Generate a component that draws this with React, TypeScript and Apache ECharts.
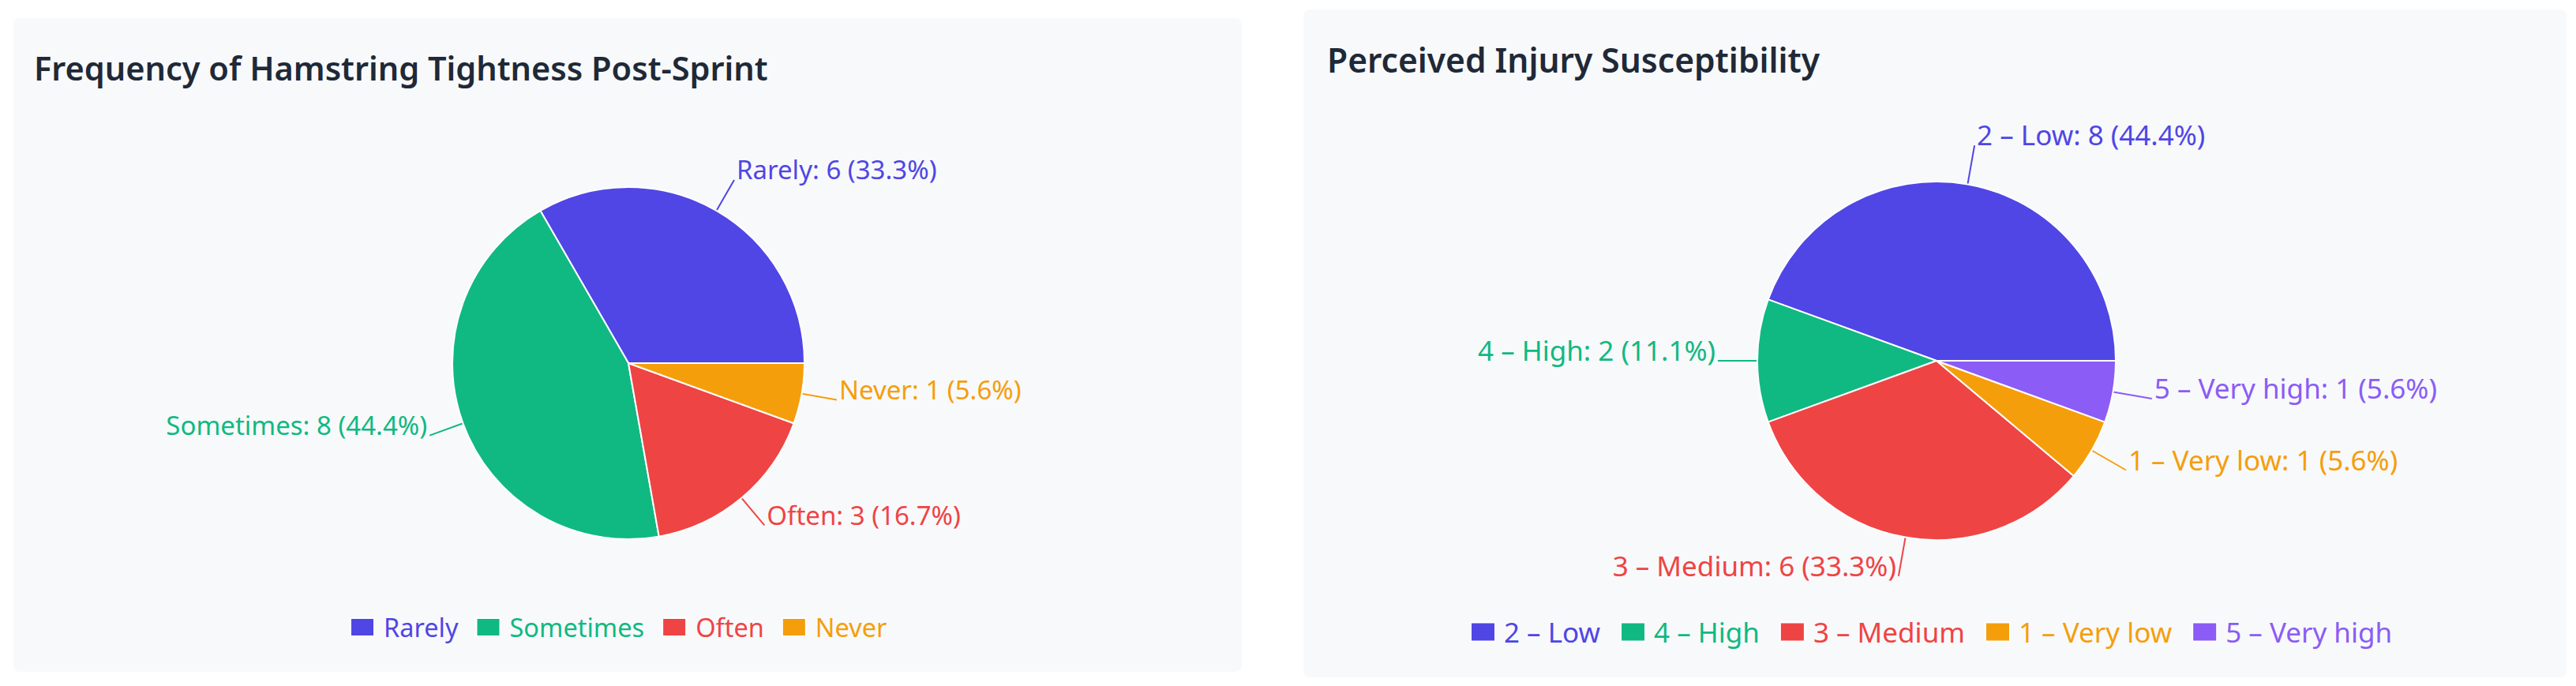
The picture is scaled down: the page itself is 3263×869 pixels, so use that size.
import React, { useEffect, useRef } from "react";
import * as echarts from "echarts";

const leftTitle = "Frequency of Hamstring Tightness Post-Sprint";
const leftCategories = ["Rarely", "Sometimes", "Often", "Never"];
const leftValues = [6, 8, 3, 1];
const leftColors = ["#4f46e5", "#10b981", "#ef4444", "#f59e0b"];

const rightTitle = "Perceived Injury Susceptibility";
const rightCategories = ["2 – Low", "4 – High", "3 – Medium", "1 – Very low", "5 – Very high"];
const rightValues = [8, 2, 6, 1, 1];
const rightColors = ["#4f46e5", "#10b981", "#ef4444", "#f59e0b", "#8b5cf6"];

const FONT = "'Noto Sans', 'Open Sans', sans-serif";

function pctFormatter(values: number[]) {
  const total = values.reduce((a, b) => a + b, 0);
  return (p: any) => `${p.name}: ${p.value} (${((p.value / total) * 100).toFixed(1)}%)\n `;
}

function makePie(
  cats: string[],
  vals: number[],
  colors: string[],
  center: [number, number],
  radius: number,
  fontSize: number,
  lineLen: number
) {
  return {
    type: "pie",
    center,
    radius,
    startAngle: 0,
    clockwise: false,
    avoidLabelOverlap: false,
    silent: true,
    itemStyle: { borderColor: "#ffffff", borderWidth: 2 },
    label: {
      show: true,
      position: "outside",
      formatter: pctFormatter(vals),
      fontFamily: FONT,
      fontSize,
      lineHeight: Math.round(fontSize * 0.78),
      distanceToLabelLine: 3,
    },
    labelLine: { show: true, length: lineLen, length2: 0, lineStyle: { width: 2 } },
    emphasis: { disabled: true },
    data: cats.map((c, i) => ({
      name: c,
      value: vals[i],
      itemStyle: { color: colors[i] },
      label: { color: colors[i] },
      labelLine: { lineStyle: { color: colors[i] } },
    })),
  };
}

export default function App() {
  const ref = useRef<HTMLDivElement>(null);
  useEffect(() => {
    if (!ref.current) return;
    const chart = echarts.init(ref.current, undefined, { renderer: "svg" });
    chart.setOption({
      animation: false,
      backgroundColor: "#ffffff",
      graphic: [
        {
          type: "rect",
          z: -10,
          shape: { x: 17, y: 23, width: 1556, height: 828, r: 8 },
          style: { fill: "#f8f9fb" },
        },
        {
          type: "rect",
          z: -10,
          shape: { x: 1651, y: 12, width: 1600, height: 846, r: 8 },
          style: { fill: "#f8f9fb" },
        },
      ],
      title: [
        {
          text: leftTitle,
          left: 38,
          top: 60,
          textStyle: { fontFamily: FONT, fontSize: 41.5, fontWeight: 600, color: "#1f2937" },
        },
        {
          text: rightTitle,
          left: 1676,
          top: 49,
          textStyle: { fontFamily: FONT, fontSize: 42.5, fontWeight: 600, color: "#1f2937" },
        },
      ],
      legend: [
        {
          left: 438,
          top: 773,
          itemWidth: 30,
          itemHeight: 23,
          itemGap: 22,
          icon: "rect",
          selectedMode: false,
          textStyle: { fontFamily: FONT, fontSize: 32.5, padding: [0, 0, 0, 7] },
          data: leftCategories.map((c, i) => ({ name: c, textStyle: { color: leftColors[i] } })),
        },
        {
          left: 1857,
          top: 778,
          itemWidth: 31,
          itemHeight: 24,
          itemGap: 25,
          icon: "rect",
          selectedMode: false,
          textStyle: { fontFamily: FONT, fontSize: 35, padding: [0, 0, 0, 6] },
          data: rightCategories.map((c, i) => ({ name: c, textStyle: { color: rightColors[i] } })),
        },
      ],
      series: [
        makePie(leftCategories, leftValues, leftColors, [796, 460], 223, 33, 45),
        makePie(rightCategories, rightValues, rightColors, [2453, 457], 227, 35, 50),
      ],
    });
    return () => chart.dispose();
  }, []);
  return (
    <div
      ref={ref}
      style={{ position: "absolute", left: 0, top: 0, width: 3263, height: 869 }}
    />
  );
}
